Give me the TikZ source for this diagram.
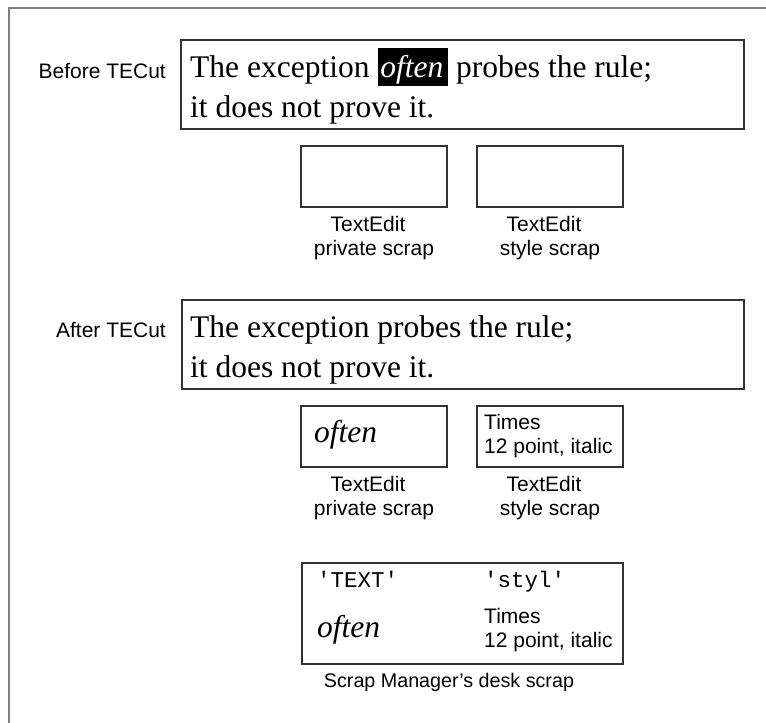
\documentclass[tikz,border=0pt]{standalone}
\usepackage{fontspec}
\setmainfont{Liberation Serif}
\setsansfont{Liberation Sans}
\setmonofont{Liberation Mono}
\begin{document}
\begin{tikzpicture}[x=1pt,y=-1pt,
  frameline/.style={draw=black!50, line width=1.5pt},
  scrapbox/.style={draw=black!80, line width=1.3pt, inner sep=0pt, outer sep=0pt, anchor=north west},
  bigtext/.style={font=\fontsize{31.5}{40}\selectfont, inner sep=0pt, anchor=base west, align=left},
  italtext/.style={font=\fontsize{31.5}{40}\selectfont\itshape, inner sep=0pt, anchor=base west},
  sanslabel/.style={font=\sffamily\fontsize{21}{24}\selectfont, inner sep=0pt},
  monotext/.style={font=\ttfamily\fontsize{22.5}{26}\selectfont, inner sep=0pt, anchor=base west},
]
\useasboundingbox (0,0) rectangle (766,723);
% outer frame
\coordinate (fTR) at (766,8);
\coordinate (fTL) at (9,8);
\coordinate (fBL) at (9,723);
\draw[frameline] (fTR) -- (fTL) -- (fBL);

% Before TECut (multi-line nodes: base = last line's baseline)
\node[sanslabel, anchor=base east] (before) at (166,78) {Before TECut};
\node[scrapbox, minimum width=563pt, minimum height=89pt] (big1) at (181,40) {};
\node[bigtext] (txt1) at (190,117) {The exception \hspace{1pt}\rlap{\rule[-9pt]{70pt}{38pt}}\hspace{2pt}\textcolor{white}{\itshape often}\hspace{5pt} probes the rule;\\it does not prove it.};

\node[scrapbox, minimum width=146pt, minimum height=61pt] (priv1) at (301,146) {};
\node[scrapbox, minimum width=146pt, minimum height=61pt] (styl1) at (477,146) {};
\node[sanslabel, anchor=base, align=center] (privlab1) at (374,255) {TextEdit\hspace*{12pt}\\private scrap};
\node[sanslabel, anchor=base, align=center] (styllab1) at (550,255) {TextEdit\hspace*{12pt}\\style scrap};

% After TECut
\node[sanslabel, anchor=base east] (after) at (166,337) {After TECut};
\node[scrapbox, minimum width=562pt, minimum height=89pt] (big2) at (182,300) {};
\node[bigtext] (txt2) at (190,377) {The exception probes the rule;\\it does not prove it.};

\node[scrapbox, minimum width=146pt, minimum height=61pt] (priv2) at (301,406) {};
\node[scrapbox, minimum width=146pt, minimum height=61pt] (styl2) at (477,406) {};
\node[italtext] (often2) at (314,442) {often};
\node[sanslabel, anchor=base west, align=left] (times2) at (484,453) {Times\\12 point, italic};
\node[sanslabel, anchor=base, align=center] (privlab2) at (374,515) {TextEdit\hspace*{12pt}\\private scrap};
\node[sanslabel, anchor=base, align=center] (styllab2) at (550,515) {TextEdit\hspace*{12pt}\\style scrap};

% desk scrap
\node[scrapbox, minimum width=321pt, minimum height=101pt] (desk) at (302,563) {};
\node[monotext] (textkey) at (317,587) {\textquotesingle TEXT\textquotesingle};
\node[monotext] (stylkey) at (484,587) {\textquotesingle styl\textquotesingle};
\node[italtext] (often3) at (317,637) {often};
\node[sanslabel, anchor=base west, align=left] (times3) at (484,647) {Times\\12 point, italic};
\node[sanslabel, font=\sffamily\fontsize{19.7}{24}\selectfont, anchor=base] (desklab) at (449,687) {Scrap Manager’s desk scrap};
\end{tikzpicture}
\end{document}
